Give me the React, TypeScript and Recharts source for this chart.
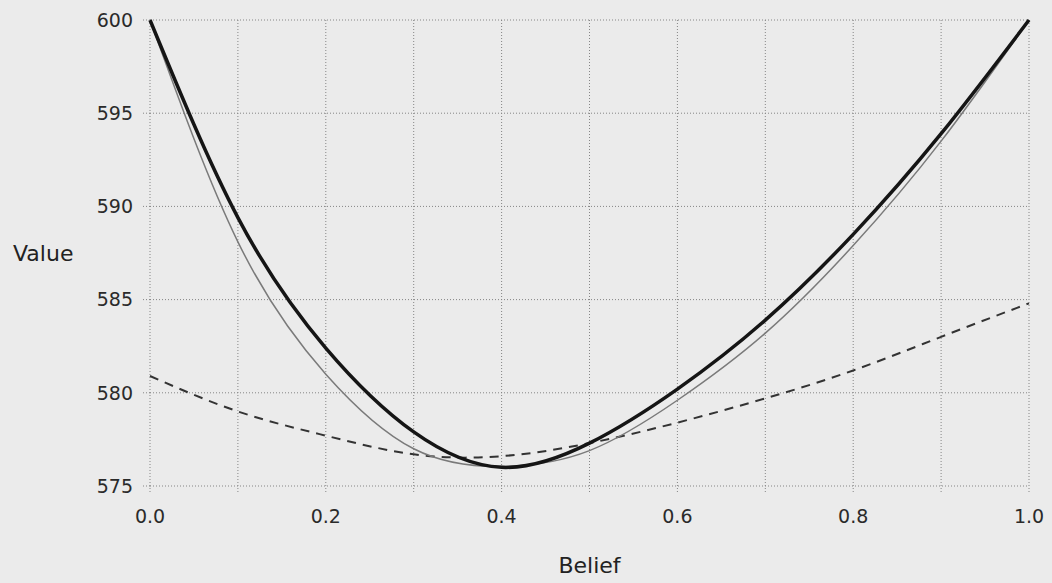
import { CartesianGrid, Line, LineChart, XAxis, YAxis } from "recharts";

// belief steps, one reading per vertical gridline
const beliefs = [0, 0.1, 0.2, 0.3, 0.4, 0.5, 0.6, 0.7, 0.8, 0.9, 1.0];
const thickValues = [600, 589.4, 582.4, 577.9, 576.0, 577.3, 580.2, 583.9, 588.5, 593.9, 600];
const thinValues = [600, 588.1, 581.0, 577.0, 576.05, 576.9, 579.6, 583.2, 587.9, 593.5, 600];
const dashedValues = [580.9, 579.0, 577.7, 576.7, 576.6, 577.3, 578.4, 579.7, 581.2, 583.0, 584.8];

const yTicks = [575, 580, 585, 590, 595, 600];
const xLabelled = [0, 0.2, 0.4, 0.6, 0.8, 1.0];

const data = beliefs.map((b, i) => ({
  belief: b,
  thick: thickValues[i],
  thin: thinValues[i],
  dashed: dashedValues[i],
}));

const font = "'DejaVu Sans', sans-serif";
const tickStyle = { fontSize: 19, fill: "#2a2a2a", fontFamily: font };

function fmtX(v: number): string {
  return xLabelled.some((t) => Math.abs(t - v) < 1e-6) ? v.toFixed(1) : "";
}

export default function App() {
  return (
    <div style={{ position: "absolute", left: 0, top: 0, width: 1052, height: 583, background: "#ebebeb" }}>
      <LineChart width={1052} height={583} data={data} margin={{ top: 20, right: 23, left: 0, bottom: 0 }}>
        <CartesianGrid stroke="#858585" strokeDasharray="1 2" strokeWidth={1} />
        <XAxis
          dataKey="belief"
          type="number"
          domain={[0, 1]}
          ticks={beliefs}
          tickFormatter={fmtX}
          axisLine={false}
          tickLine={{ stroke: "#858585", strokeDasharray: "1 2" }}
          tickSize={6}
          tickMargin={18}
          height={97}
          tick={tickStyle}
          interval={0}
          label={{ value: "Belief", position: "insideBottom", offset: 10, style: { fontSize: 22, fill: "#222", fontFamily: font } }}
        />
        <YAxis
          type="number"
          domain={[575, 600]}
          ticks={yTicks}
          axisLine={false}
          tickLine={{ stroke: "#858585", strokeDasharray: "1 2" }}
          tickSize={7}
          tickMargin={10}
          width={150}
          tick={tickStyle}
          interval={0}
          label={{ value: "Value", position: "insideLeft", offset: 13, style: { fontSize: 22, fill: "#222", fontFamily: font, textAnchor: "start" } }}
        />
        <Line type="natural" dataKey="dashed" stroke="#333" strokeWidth={2} strokeDasharray="9 7" dot={false} isAnimationActive={false} />
        <Line type="natural" dataKey="thin" stroke="#7a7a7a" strokeWidth={1.5} dot={false} isAnimationActive={false} />
        <Line type="natural" dataKey="thick" stroke="#151515" strokeWidth={3.5} dot={false} isAnimationActive={false} />
      </LineChart>
    </div>
  );
}
